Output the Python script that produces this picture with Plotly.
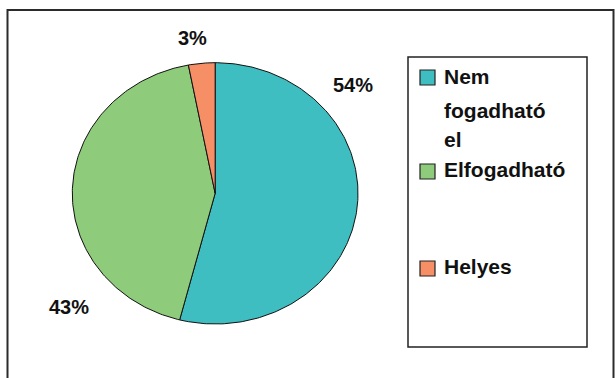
import numpy as np
import plotly.graph_objects as go

# Chart data
labels = ["Nem fogadható el", "Elfogadható", "Helyes"]
values = [54, 43, 3]
colors = ["#3EBEC0", "#8ECB7A", "#F68E66"]

W, H = 615, 378
FONT = "Liberation Sans, Arial, sans-serif"


def px(x):
    return x / W


def py(y):
    return 1 - y / H


# Pie geometry (pixels): centre and radii of the slightly wide ellipse
cx, cy = 215.15, 193.35
rx, ry = 142.85, 130.65
pad = 1.05

fig = go.Figure()

total = float(sum(values))
start = 0.0
for lab, val, col in zip(labels, values, colors):
    frac = val / total
    t = np.linspace(start, start + frac, max(int(frac * 400), 8)) * 2 * np.pi
    xs = np.concatenate([[0], np.sin(t), [0]])
    ys = np.concatenate([[0], np.cos(t), [0]])
    fig.add_trace(go.Scatter(
        x=xs, y=ys, mode="lines", fill="toself", fillcolor=col,
        line=dict(color="#111111", width=1), name=lab,
        hoverinfo="text", text=f"{lab}: {val}%", showlegend=False,
    ))
    start += frac

fig.update_xaxes(range=[-pad, pad], visible=False, fixedrange=True,
                 domain=[px(cx - pad * rx), px(cx + pad * rx)])
fig.update_yaxes(range=[-pad, pad], visible=False, fixedrange=True,
                 domain=[py(cy + pad * ry), py(cy - pad * ry)])

# Percentage labels
label_pos = [(353, 85), (69, 307), (192, 38)]
annotations = []
for val, (lx, ly) in zip(values, label_pos):
    annotations.append(dict(
        x=px(lx), y=py(ly), xref="paper", yref="paper", text=f"{val}%",
        showarrow=False, xanchor="center", yanchor="middle",
        font=dict(family=FONT, size=20, color="#111111", weight="bold"),
    ))

shapes = [
    # outer frame
    dict(type="rect", xref="paper", yref="paper", x0=px(7.5), x1=px(613.5),
         y0=py(395), y1=py(10), line=dict(color="#2b2b2b", width=2)),
    # legend box
    dict(type="rect", xref="paper", yref="paper", x0=px(408), x1=px(587),
         y0=py(347), y1=py(57), line=dict(color="#222222", width=1.5)),
]

# Legend: swatch plus one text line per word
swatch_top = [70, 164, 261]
line_baselines = [[84, 118, 147], [177], [274]]
for lab, col, st, bases in zip(labels, colors, swatch_top, line_baselines):
    shapes.append(dict(type="rect", xref="paper", yref="paper",
                       x0=px(420), x1=px(435), y0=py(st + 15), y1=py(st),
                       fillcolor=col, line=dict(color="#222222", width=1.2)))
    for word, b in zip(lab.split(" "), bases):
        annotations.append(dict(
            x=px(442), y=py(b - 7.5), xref="paper", yref="paper", text=word,
            showarrow=False, xanchor="left", yanchor="middle",
            font=dict(family=FONT, size=21, color="#111111", weight="bold"),
        ))

fig.update_layout(
    width=W, height=H, autosize=False,
    margin=dict(l=0, r=0, t=0, b=0),
    paper_bgcolor="white", plot_bgcolor="white",
    annotations=annotations, shapes=shapes, showlegend=False,
)

fig.write_html("out.html")
